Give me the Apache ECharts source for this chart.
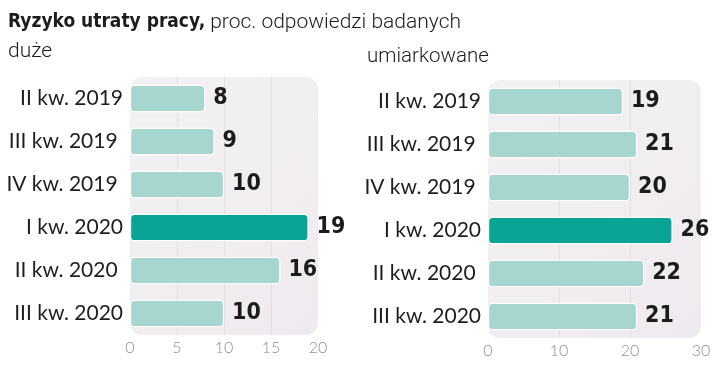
<!DOCTYPE html>
<html><head><meta charset="utf-8">
<script src="https://cdn.jsdelivr.net/npm/echarts@6/dist/echarts.min.js"></script>
<style>html,body{margin:0;padding:0;background:#fff}#c{width:720px;height:371px}</style>
</head><body><div id="c"></div>
<script>
const categories = ['II kw. 2019', 'III kw. 2019 ', 'IV kw. 2019 ', 'I kw. 2020', 'II kw. 2020 ', 'III kw. 2020'];
const duzeValues = [8, 9, 10, 19, 16, 10];
const umiarkowaneValues = [19, 21, 20, 26, 22, 21];
const highlightIndex = 3;
const leftTicks = [0, 5, 10, 15, 20];
const rightTicks = [0, 10, 20, 30];

const LIGHT = '#a7d6d1', DARK = '#08a596';
const BOLDFONT = '"DejaVu Sans Condensed", "Roboto"';
const chart = echarts.init(document.getElementById('c'));

function barData(vals) {
  return vals.map((v, i) => ({ value: v, itemStyle: { color: i === highlightIndex ? DARK : LIGHT } }));
}
function xAxis(gi, ticks) {
  return {
    gridIndex: gi, type: 'value', min: ticks[0], max: ticks[ticks.length - 1],
    interval: ticks[1] - ticks[0],
    axisLine: { show: false }, axisTick: { show: false },
    axisLabel: { color: '#8f8f8f', fontFamily: 'Lato', fontWeight: 300, fontSize: 16, margin: 5 },
    splitLine: { show: true, showMinLine: false, showMaxLine: false, lineStyle: { color: '#e2dfe3', width: 1 } }
  };
}
function yAxis(gi) {
  return {
    gridIndex: gi, type: 'category', data: categories, inverse: true,
    axisLine: { show: false }, axisTick: { show: false },
    axisLabel: { color: '#1e1e1e', fontFamily: 'Lato', fontSize: 21, margin: 7 }
  };
}
function series(gi, vals) {
  return {
    type: 'bar', xAxisIndex: gi, yAxisIndex: gi, data: barData(vals), barWidth: '64%',
    itemStyle: { borderRadius: 4, borderColor: '#ffffff', borderWidth: 1.2 },
    label: { show: true, position: 'right', distance: 8, color: '#1c1c1c',
      fontFamily: BOLDFONT, fontWeight: 'bold', fontSize: 23 }
  };
}
const option = {
  animation: false,
  title: [
    { text: '{b|Ryzyko utraty pracy,} {r|proc. odpowiedzi badanych}', left: 8, top: 12, padding: 0,
      textStyle: { rich: {
        b: { fontFamily: BOLDFONT, fontWeight: 'bold', fontSize: 19, color: '#1c1c1c' },
        r: { fontFamily: 'Roboto', fontWeight: 300, fontSize: 21, color: '#1c1c1c' } } } },
    { text: 'duże', left: 8, top: 41, padding: 0, textStyle: { fontFamily: 'Roboto', fontWeight: 300, fontSize: 21, color: '#1c1c1c' } },
    { text: 'umiarkowane', left: 367, top: 46, padding: 0, textStyle: { fontFamily: 'Roboto', fontWeight: 300, fontSize: 20.5, color: '#1c1c1c' } }
  ],
  grid: [
    { left: 130, width: 188, top: 77, height: 258 },
    { left: 488, width: 213, top: 80, height: 258 }
  ],
  xAxis: [xAxis(0, leftTicks), xAxis(1, rightTicks)],
  yAxis: [yAxis(0), yAxis(1)],
  series: [series(0, duzeValues), series(1, umiarkowaneValues)]
};
chart.setOption(option);

const grids = [0, 1].map(i => chart.getModel().getComponent('grid', i).coordinateSystem.getRect());
chart.setOption({
  graphic: grids.map(r => ({
    type: 'rect', z: -10, silent: true,
    shape: { x: r.x, y: r.y, width: r.width, height: r.height, r: 12 },
    style: { fill: new echarts.graphic.LinearGradient(0, 0, 1, 1, [
      { offset: 0, color: '#f3f1f4' }, { offset: 1, color: '#efeaef' }]) }
  }))
});
</script>
</body></html>
